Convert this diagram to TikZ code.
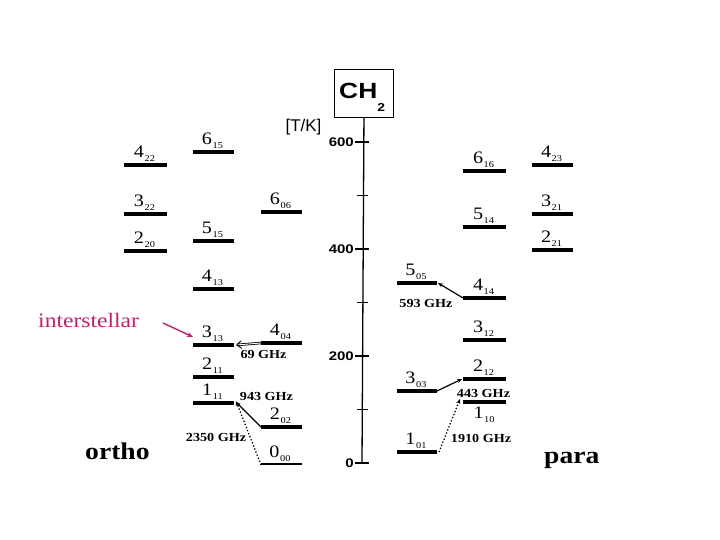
\documentclass[tikz,border=0pt]{standalone}
\usepackage{fontspec}
\setmainfont{Liberation Serif}
\newfontfamily\tnr[FakeStretch=1.15]{Liberation Serif}
\newfontfamily\arl[FakeStretch=1.2]{Liberation Sans}
\newfontfamily\arlplain{Liberation Sans}
\usetikzlibrary{arrows.meta}
\definecolor{ismag}{RGB}{200,30,110}

\newcommand\levtext[2]{{\fontsize{17.5}{17.5}\selectfont\tnr #1}\kern0.6pt\raisebox{-4pt}{\fontsize{9}{9}\selectfont\tnr #2}}
\newcommand\mklev[6]{%
  \coordinate (#1l) at (#2,#4);
  \coordinate (#1r) at (#3,#4);
  \draw[levline] (#1l) -- (#1r);
  \node[levlab] (#1t) at ({(#2+#3)/2-1},{#4-7.5}) {\levtext{#5}{#6}};
}

\tikzset{
  levline/.style={line width=3.2pt, line cap=butt},
  levlab/.style={anchor=base, inner sep=0pt},
  axisline/.style={line width=1.3pt},
  axlab/.style={anchor=east, inner sep=0pt, font=\arl\bfseries\fontsize{12.5}{12.5}\selectfont},
  freq/.style={inner sep=0pt, font=\tnr\bfseries\fontsize{12.3}{12.3}\selectfont},
  trans/.style={line width=1.2pt, -{Stealth[length=5pt,width=4pt]}},
  dtrans/.style={line width=1.3pt, dotted, -{Stealth[length=5pt,width=4pt]}},
}

\begin{document}
\begin{tikzpicture}[x=1pt,y=-1pt]
\useasboundingbox[fill=white] (0,0) rectangle (720,540);

% CH2 box and axis
\node[draw, line width=0.9pt, minimum width=59pt, minimum height=48pt, inner sep=0pt, anchor=north west] (chbox) at (334,69) {};
\node[anchor=base west, inner sep=0pt] (chlab) at (339,99) {\arl\bfseries\fontsize{22}{22}\selectfont CH\raisebox{-13pt}{\fontsize{11.5}{11.5}\selectfont 2}};
\node[inner sep=0pt] (unit) at (303.5,127) {\arlplain\fontsize{17}{17}\selectfont [T/K]};
\coordinate (ax0) at (362,463);
\draw[axisline] (chbox.south) -- (ax0);
\foreach \T in {0,200,400,600} {
  \draw[axisline] (355,{463-0.535*\T}) -- (369,{463-0.535*\T});
  \node[axlab] (tick\T) at (354,{463-0.535*\T}) {\T};
}
\foreach \T in {100,300,500} {
  \draw[axisline] (357,{463-0.535*\T}) -- (368,{463-0.535*\T});
}

% ortho levels
\mklev{a422}{124}{167}{165}{4}{22}
\mklev{a322}{124}{167}{214}{3}{22}
\mklev{a220}{124}{167}{251}{2}{20}
\mklev{a615}{193}{234}{152}{6}{15}
\mklev{a515}{193}{234}{241}{5}{15}
\mklev{a413}{193}{234}{289}{4}{13}
\mklev{a313}{193}{234}{345}{3}{13}
\mklev{a211}{193}{234}{377}{2}{11}
\mklev{a111}{193}{234}{403}{1}{11}
\mklev{a606}{261}{302}{212}{6}{06}
\mklev{a404}{261}{302}{343}{4}{04}
\mklev{a202}{261}{302}{427}{2}{02}
\coordinate (a000l) at (261,464);
\coordinate (a000r) at (302,464);
\draw[line width=2pt] (a000l) -- (a000r);
\node[levlab] (a000t) at (280,457) {\levtext{0}{00}};

% para levels
\mklev{p505}{397}{437}{283}{5}{05}
\mklev{p303}{397}{437}{391}{3}{03}
\mklev{p101}{397}{437}{452}{1}{01}
\mklev{p616}{463}{506}{171}{6}{16}
\mklev{p514}{463}{506}{227}{5}{14}
\mklev{p414}{463}{506}{298}{4}{14}
\mklev{p312}{463}{506}{340}{3}{12}
\mklev{p212}{463}{506}{379}{2}{12}
\coordinate (p110l) at (463,402);
\coordinate (p110r) at (506,402);
\draw[levline] (p110l) -- (p110r);
\node[levlab] (p110t) at (484,418) {\levtext{1}{10}};
\mklev{p423}{532}{573}{165}{4}{23}
\mklev{p321}{532}{573}{214}{3}{21}
\mklev{p221}{532}{573}{250}{2}{21}

% transitions
\draw[line width=0.8pt, double, double distance=0.9pt, -{Straight Barb[length=5pt,width=8pt]}] (a404l) -- ([xshift=2pt]a313r);
\node[freq] (f69) at (263.5,354) {69 GHz};
\draw[trans] (a202l) -- ([xshift=2pt,yshift=1pt]a111r);
\node[freq] (f943) at (266.5,396) {943 GHz};
\draw[dtrans] ([yshift=-1pt]a000l) -- ([xshift=2pt,yshift=2pt]a111r);
\node[freq] (f2350) at (216,437) {2350 GHz};
\draw[trans] (p414l) -- ([xshift=1pt]p505r);
\node[freq] (f593) at (426,303) {593 GHz};
\draw[trans] (p303r) -- ([xshift=-1pt]p212l);
\node[freq] (f443) at (483.5,393) {443 GHz};
\draw[dtrans] ([xshift=2pt]p101r) -- ([xshift=-3pt,yshift=3pt]p110l);
\node[freq] (f1910) at (481,438) {1910 GHz};

% side labels
\node[anchor=base west, inner sep=0pt, text=ismag] (inter) at (38,327) {\tnr\fontsize{20.5}{20.5}\selectfont interstellar};
\coordinate (interend) at (193,337);
\draw[ismag, line width=1.4pt, -{Stealth[length=6pt,width=5pt]}] (163,323) -- (interend);
\node[anchor=base west, inner sep=0pt] (ortho) at (85,459) {\tnr\bfseries\fontsize{24}{24}\selectfont ortho};
\node[anchor=base west, inner sep=0pt] (para) at (544,463) {\tnr\bfseries\fontsize{24}{24}\selectfont para};
\end{tikzpicture}
\end{document}
